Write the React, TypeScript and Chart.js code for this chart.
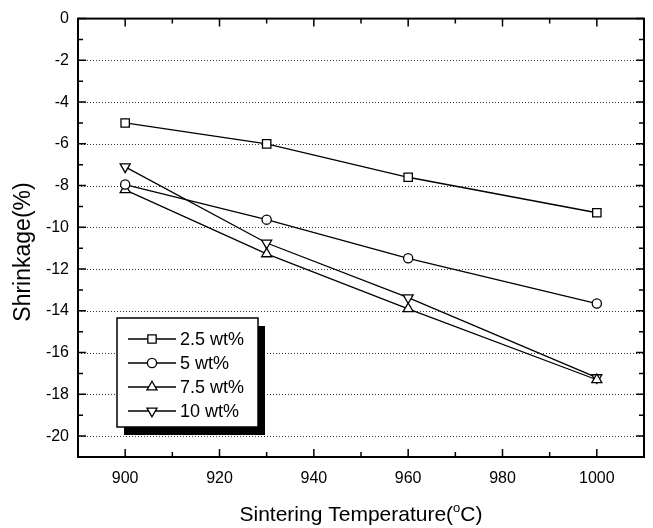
import React, { useEffect, useRef } from 'react';
import { Chart, registerables } from 'chart.js';
import { drawPoint } from 'chart.js/helpers';

Chart.register(...registerables);

const temperatures = [900, 930, 960, 1000];
const series25 = [-5.0, -6.0, -7.6, -9.3];
const series5 = [-7.95, -9.63, -11.48, -13.65];
const series75 = [-8.2, -11.27, -13.9, -17.3];
const series10 = [-7.1, -10.75, -13.37, -17.2];
const seriesLabels = ['2.5 wt%', '5 wt%', '7.5 wt%', '10 wt%'];

const xTickValues = [900, 920, 940, 960, 980, 1000];
const xMinorValues = [910, 930, 950, 970, 990];
const yTickValues = [0, -2, -4, -6, -8, -10, -12, -14, -16, -18, -20];
const yMinorValues = [-1, -3, -5, -7, -9, -11, -13, -15, -17, -19];

const xTitleParts = ['Sintering Temperature(', 'o', 'C)'];
const yTitle = 'Shrinkage(%)';

const FONT = '"Liberation Sans", Arial, Helvetica, sans-serif';

const framePlugin = {
  id: 'framePlugin',
  beforeDatasetsDraw(chart: any) {
    const { ctx, chartArea: a, scales } = chart;
    const x = scales.x;
    const y = scales.y;
    ctx.save();
    // dotted horizontal grid
    ctx.strokeStyle = '#333';
    ctx.lineWidth = 1;
    ctx.setLineDash([1, 2]);
    for (const v of yTickValues) {
      if (v === 0) continue;
      const py = Math.round(y.getPixelForValue(v)) + 0.5;
      ctx.beginPath();
      ctx.moveTo(a.left, py);
      ctx.lineTo(a.right, py);
      ctx.stroke();
    }
    ctx.setLineDash([]);
    // inward ticks
    ctx.strokeStyle = '#000';
    ctx.lineWidth = 1.5;
    const major = 8;
    const minor = 5;
    const tickX = (v: number, len: number) => {
      const px = x.getPixelForValue(v);
      ctx.beginPath();
      ctx.moveTo(px, a.bottom);
      ctx.lineTo(px, a.bottom - len);
      ctx.moveTo(px, a.top);
      ctx.lineTo(px, a.top + len);
      ctx.stroke();
    };
    const tickY = (v: number, len: number) => {
      const py = y.getPixelForValue(v);
      ctx.beginPath();
      ctx.moveTo(a.left, py);
      ctx.lineTo(a.left + len, py);
      ctx.moveTo(a.right, py);
      ctx.lineTo(a.right - len, py);
      ctx.stroke();
    };
    xTickValues.forEach((v) => tickX(v, major));
    xMinorValues.forEach((v) => tickX(v, minor));
    yTickValues.forEach((v) => tickY(v, major));
    yMinorValues.forEach((v) => tickY(v, minor));
    // frame
    ctx.lineWidth = 2;
    ctx.strokeRect(a.left, a.top, a.right - a.left, a.bottom - a.top);
    ctx.restore();
  },
  afterDraw(chart: any) {
    const { ctx, chartArea: a } = chart;
    ctx.save();
    // axis titles
    ctx.fillStyle = '#000';
    ctx.font = `21px ${FONT}`;
    ctx.textBaseline = 'alphabetic';
    const w0 = ctx.measureText(xTitleParts[0]).width;
    ctx.font = `13px ${FONT}`;
    const w1 = ctx.measureText(xTitleParts[1]).width;
    ctx.font = `21px ${FONT}`;
    const w2 = ctx.measureText(xTitleParts[2]).width;
    const total = w0 + w1 + w2;
    const cx = (a.left + a.right) / 2;
    let sx = cx - total / 2;
    const by = 521;
    ctx.textAlign = 'left';
    ctx.fillText(xTitleParts[0], sx, by);
    sx += w0;
    ctx.font = `13px ${FONT}`;
    ctx.fillText(xTitleParts[1], sx, by - 9);
    sx += w1;
    ctx.font = `21px ${FONT}`;
    ctx.fillText(xTitleParts[2], sx, by);

    ctx.save();
    ctx.translate(24, 252);
    ctx.rotate(-Math.PI / 2);
    ctx.textAlign = 'center';
    ctx.textBaseline = 'middle';
    ctx.font = `23px ${FONT}`;
    ctx.fillText(yTitle, 0, 0);
    ctx.restore();

    // legend
    const lx = a.left + 39;
    const ly = a.bottom - 139;
    const lw = 141;
    const lh = 109;
    ctx.fillStyle = '#000';
    ctx.fillRect(lx + 7, ly + 8, lw, lh);
    ctx.fillStyle = '#fff';
    ctx.fillRect(lx, ly, lw, lh);
    ctx.strokeStyle = '#000';
    ctx.lineWidth = 1.5;
    ctx.strokeRect(lx, ly, lw, lh);
    chart.data.datasets.forEach((ds: any, i: number) => {
      const ry = ly + 21 + i * 24;
      ctx.strokeStyle = '#000';
      ctx.lineWidth = 1.3;
      ctx.beginPath();
      ctx.moveTo(lx + 11, ry);
      ctx.lineTo(lx + 59, ry);
      ctx.stroke();
      ctx.fillStyle = '#fff';
      ctx.strokeStyle = '#000';
      ctx.lineWidth = 1.3;
      drawPoint(ctx, {
        pointStyle: ds.pointStyle,
        rotation: ds.pointRotation || 0,
        radius: ds.pointRadius,
        borderWidth: 1.3,
      }, lx + 35, ry);
      ctx.fillStyle = '#000';
      ctx.font = `18px ${FONT}`;
      ctx.textAlign = 'left';
      ctx.textBaseline = 'middle';
      ctx.fillText(ds.label, lx + 63, ry + 1);
    });
    ctx.restore();
  },
};

export default function App() {
  const canvasRef = useRef<HTMLCanvasElement | null>(null);

  useEffect(() => {
    document.body.style.margin = '0';
    const canvas = canvasRef.current;
    if (!canvas) return;
    const mk = (label: string, values: number[], style: string, radius: number, rotation = 0) => ({
      label,
      data: temperatures.map((t, i) => ({ x: t, y: values[i] })),
      borderColor: '#000',
      borderWidth: 1.3,
      backgroundColor: '#fff',
      pointBackgroundColor: '#fff',
      pointBorderColor: '#000',
      pointBorderWidth: 1.3,
      pointStyle: style,
      pointRadius: radius,
      pointRotation: rotation,
      tension: 0,
      fill: false,
    });
    const chart = new Chart(canvas, {
      type: 'line',
      data: {
        datasets: [
          mk(seriesLabels[0], series25, 'rect', 5.9),
          mk(seriesLabels[1], series5, 'circle', 4.6),
          mk(seriesLabels[2], series75, 'triangle', 5.8),
          mk(seriesLabels[3], series10, 'triangle', 5.8, 180),
        ],
      },
      options: {
        animation: false,
        responsive: false,
        devicePixelRatio: 1,
        layout: { padding: { left: 0, top: 16, right: 9, bottom: 0 } },
        plugins: {
          legend: { display: false },
          tooltip: { enabled: false },
          title: { display: false },
        },
        scales: {
          x: {
            type: 'linear',
            min: 890,
            max: 1010,
            afterBuildTicks: (s: any) => {
              s.ticks = xTickValues.map((v) => ({ value: v }));
            },
            afterFit: (s: any) => {
              s.height = 71;
            },
            grid: { display: false, drawTicks: false },
            border: { display: false },
            ticks: {
              color: '#000',
              font: { family: FONT, size: 16 },
              padding: 12,
              maxRotation: 0,
              autoSkip: false,
              callback: (v: any) => String(v),
            },
          },
          y: {
            type: 'linear',
            min: -21,
            max: 0,
            afterBuildTicks: (s: any) => {
              s.ticks = yTickValues.map((v) => ({ value: v }));
            },
            afterFit: (s: any) => {
              s.width = 78;
            },
            grid: { display: false, drawTicks: false },
            border: { display: false },
            ticks: {
              color: '#000',
              font: { family: FONT, size: 16 },
              padding: 9,
              autoSkip: false,
              callback: (v: any) => String(v),
            },
          },
        },
      },
      plugins: [framePlugin],
    } as any);
    return () => chart.destroy();
  }, []);

  return (
    <div style={{ width: 653, height: 528, background: '#fff' }}>
      <canvas ref={canvasRef} width={653} height={528} style={{ display: 'block' }} />
    </div>
  );
}
